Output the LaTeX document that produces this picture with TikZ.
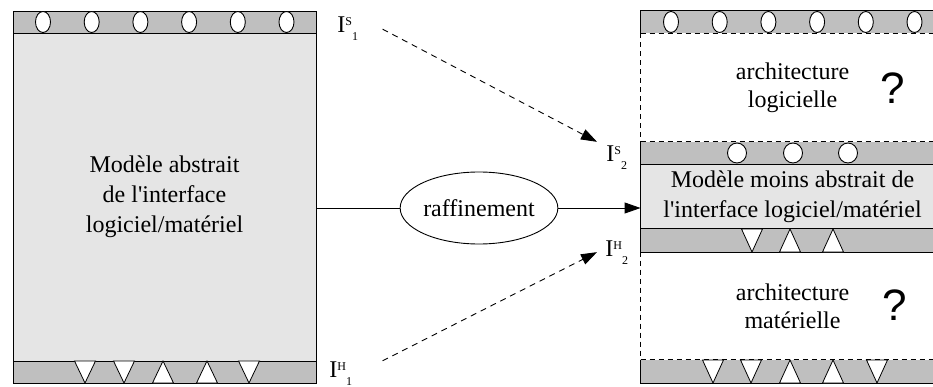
\documentclass[tikz,border=0pt]{standalone}
\usepackage{fontspec}
\setmainfont{Liberation Serif}[Ligatures=TeXOff]
\newfontfamily\qmarkfont{Liberation Sans}
\usetikzlibrary{shapes.geometric, arrows.meta, positioning}

\definecolor{bargray}{gray}{0.75}
\definecolor{modelgray}{gray}{0.9}

% I with stacked super/subscript
\newcommand{\portlab}[2]{I\raisebox{7pt}{\fontsize{12}{12}\selectfont #1}\raisebox{-8pt}{\fontsize{12}{12}\selectfont #2}}

\begin{document}
\begin{tikzpicture}[
  x=1pt, y=-1pt,
  line width=0.9pt,
  txt/.style={font=\fontsize{24}{30}\selectfont, align=center},
  archtxt/.style={font=\fontsize{24}{28}\selectfont, align=center, minimum width=303pt, minimum height=108pt},
  model/.style={rectangle, draw=black, fill=modelgray, inner sep=0pt, txt},
  ifbar/.style={rectangle, fill=bargray, inner sep=0pt, minimum width=303pt},
  swport/.style={ellipse, draw=black, fill=white, inner sep=0pt, minimum width=15pt, minimum height=21pt},
  hwport/.style={draw=black, fill=white, line width=0.8pt},
  iflabel/.style={anchor=base west, inner sep=0pt, font=\fontsize{24}{24}\selectfont},
  qmark/.style={font=\qmarkfont\fontsize{44}{44}\selectfont},
  arrow/.style={-{Triangle[length=16pt, width=11pt]}},
  dasharrow/.style={arrow, dash pattern=on 6pt off 5pt},
  cutline/.style={dash pattern=on 5pt off 4pt}
]
\clip (0,0) rectangle (933,387);

% abstract model (left)
\node[model, minimum width=303pt, minimum height=328pt] (abs) at (164.5,197) {Modèle abstrait\\de l'interface\\logiciel/matériel};
\node[ifbar, draw=black, minimum height=22pt] (absS) at (164.5,22) {};
\node[ifbar, draw=black, minimum height=22pt] (absH) at (164.5,372) {};
\foreach \i in {0,...,5}
  \node[swport] (absS\i) at (43+48.7*\i,22) {};
\foreach \x in {85,124,249}
  \draw[hwport] (\x-10.5,361) -- (\x+10.5,361) -- (\x,383) -- cycle;
\foreach \x in {163,207}
  \draw[hwport] (\x-10.5,383) -- (\x+10.5,383) -- (\x,361) -- cycle;

% refined model (right)
\node[ifbar, minimum height=22pt] (swS) at (792.5,22) {};
\node[archtxt] (sw) at (792.5,87.5) {architecture\\logicielle};
\node[ifbar, minimum height=22pt] (midS) at (792.5,153) {};
\node[model, draw=none, minimum width=303pt, minimum height=65pt] (mid) at (792.5,196.5) {Modèle moins abstrait de\\l'interface logiciel/matériel};
\node[ifbar, minimum height=23pt] (midH) at (792.5,240.5) {};
\node[archtxt] (hw) at (792.5,306) {architecture\\matérielle};
\node[ifbar, minimum height=23pt] (hwH) at (792.5,371.5) {};

\draw (swS.south west) -- (swS.north west) -- (swS.north east);
\draw[cutline] (swS.south west) -- (swS.south east);
\draw[cutline] (sw.north west) -- (sw.south west);
\draw[cutline] (midS.north west) -- (midS.north east);
\draw (midS.north west) -- (midH.south west) -- (midH.south east);
\draw (midS.south west) -- (midS.south east);
\draw (midH.north west) -- (midH.north east);
\draw[cutline] (hw.north west) -- (hw.south west);
\draw[cutline] (hwH.north west) -- (hwH.north east);
\draw (hwH.north west) -- (hwH.south west) -- (hwH.south east);

\foreach \i in {0,...,5}
  \node[swport] (swS\i) at (671+48.7*\i,22) {};
\foreach \x [count=\i] in {737,793,848}
  \node[swport, minimum width=19pt, minimum height=20pt] (midS\i) at (\x,153) {};
\foreach \x in {752}
  \draw[hwport] (\x-10.5,229) -- (\x+10.5,229) -- (\x,252) -- cycle;
\foreach \x in {790,833}
  \draw[hwport] (\x-10.5,252) -- (\x+10.5,252) -- (\x,229) -- cycle;
\foreach \x in {713,751,877}
  \draw[hwport] (\x-10.5,360) -- (\x+10.5,360) -- (\x,383) -- cycle;
\foreach \x in {790,833}
  \draw[hwport] (\x-10.5,383) -- (\x+10.5,383) -- (\x,360) -- cycle;

\node[qmark] (qsw) at (893,88) {?};
\node[qmark] (qhw) at (895,305) {?};

% refinement
\node[ellipse, draw=black, minimum width=152pt, minimum height=72pt, inner sep=0pt, txt] (raf) at (479,208) {raffinement};
\draw (abs.east |- raf) -- (raf);
\draw[arrow] (raf) -- (raf -| midS.west);

% interface labels
\node[iflabel] (is1) at (337,33) {\portlab{S}{1}};
\node[iflabel] (ih1) at (329,377) {\portlab{H}{1}};
\node[iflabel] (is2) at (606,162) {\portlab{S}{2}};
\node[iflabel] (ih2) at (605,256) {\portlab{H}{2}};

\draw[dasharrow] ([xshift=24pt]is1.east) -- ([xshift=-9pt,yshift=4pt]is2.north west);
\draw[dasharrow] ([xshift=30pt]ih1.north east) -- ([xshift=-8pt]ih2.west);

\end{tikzpicture}
\end{document}
